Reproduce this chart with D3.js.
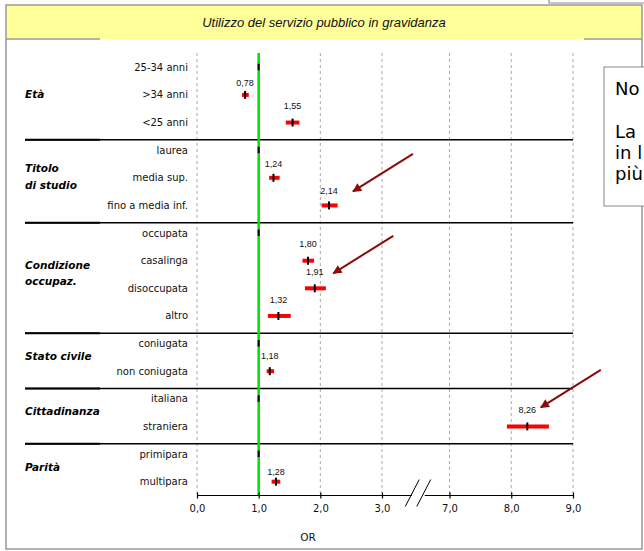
<!DOCTYPE html>
<html>
<head>
<meta charset="utf-8">
<script src="https://cdn.jsdelivr.net/npm/d3@7"></script>
<style>
  html, body { margin: 0; padding: 0; background: #fff; overflow: hidden; }
  svg { display: block; }
</style>
</head>
<body>
<svg id="chart" width="644" height="551"></svg>
<script>
// Odds ratios (with 95% CI) for the use of the public service during pregnancy
const categories = ["25-34 anni", ">34 anni", "<25 anni",
  "laurea", "media sup.", "fino a media inf.",
  "occupata", "casalinga", "disoccupata", "altro",
  "coniugata", "non coniugata",
  "italiana", "straniera",
  "primipara", "multipara"];
const rowGroup = [0, 0, 0, 1, 1, 1, 2, 2, 2, 2, 3, 3, 4, 4, 5, 5];
const groupNames = [["Età"], ["Titolo", "di studio"], ["Condizione", "occupaz."],
  ["Stato civile"], ["Cittadinanza"], ["Parità"]];
const oddsRatio = [1, 0.78, 1.55, 1, 1.24, 2.14, 1, 1.80, 1.91, 1.32, 1, 1.18, 1, 8.26, 1, 1.28];
const ciLower   = [1, 0.73, 1.44, 1, 1.17, 2.02, 1, 1.71, 1.75, 1.15, 1, 1.13, 1, 7.93, 1, 1.21];
const ciUpper   = [1, 0.84, 1.66, 1, 1.34, 2.28, 1, 1.90, 2.09, 1.52, 1, 1.25, 1, 8.61, 1, 1.35];
const xTickValues = [0, 1, 2, 3, 7, 8, 9];
const titleText = "Utilizzo del servizio pubblico in gravidanza";
const axisTitle = "OR";
const noteLines = ["No", "La", "in l", "più"];
// rows pointed out by an arrow
const highlightedRows = [5, 8, 13];

// layout: how far each value label sits above its row
const labelLift = [0, 12, 16.5, 0, 13.5, 14.5, 0, 16.5, 16.5, 16.5, 0, 15.5, 0, 16.5, 0, 10];
// layout: arrow tip offsets from the highlighted estimate
const arrowTip = [[24, -14], [18.5, -15], [13.5, -19]];

const svg = d3.select("#chart");
const fmt = v => d3.format(".2f")(v).replace(".", ",");
const fmtTick = v => d3.format(".1f")(v).replace(".", ",");

// broken axis: 0–3 then 7–9
const x = d3.scaleLinear().domain([0, 3, 7, 9]).range([197, 382, 449.5, 573]);
const y = d3.scalePoint().domain(d3.range(categories.length)).range([67.3, 481.7]);
const axisY = 495.5;
const plotTop = 53;

// frame and title band
svg.append("path").attr("d", "M549,0V3H644").attr("fill", "none").attr("stroke", "#8c8c8c").attr("stroke-width", 1.2);
svg.append("rect").attr("x", 6).attr("y", 5).attr("width", 636).attr("height", 34).attr("fill", "#ffff99");
svg.append("rect").attr("x", 6).attr("y", 5).attr("width", 636).attr("height", 544)
  .attr("fill", "none").attr("stroke", "#999").attr("stroke-width", 1.5);
[[6, 100], [584, 642]].forEach(([a, b]) =>
  svg.append("line").attr("x1", a).attr("x2", b).attr("y1", 39).attr("y2", 39)
    .attr("stroke", "#999").attr("stroke-width", 1.5));
svg.append("text").attr("x", 324).attr("y", 27).attr("text-anchor", "middle")
  .attr("font-family", "'Liberation Sans', Arial, sans-serif").attr("font-style", "italic")
  .attr("font-size", 13).attr("fill", "#111").text(titleText);

// dashed vertical gridlines
svg.append("g").selectAll("line").data(xTickValues.filter(v => v !== 1)).join("line")
  .attr("x1", d => x(d)).attr("x2", d => x(d)).attr("y1", plotTop).attr("y2", axisY)
  .attr("stroke", "#aaa").attr("stroke-width", 1).attr("stroke-dasharray", "3,3");

// group separators
const groupIdx = d3.range(groupNames.length);
const firstRow = g => rowGroup.indexOf(g);
const lastRow = g => rowGroup.lastIndexOf(g);
const seps = groupIdx.slice(1).map(g => (y(lastRow(g - 1)) + y(firstRow(g))) / 2 + 3.5);
svg.append("g").selectAll("line").data(seps).join("line")
  .attr("x1", 25).attr("x2", x(9)).attr("y1", d => d).attr("y2", d => d)
  .attr("stroke", "#000").attr("stroke-width", 1.5);
svg.append("g").selectAll("line").data(seps).join("line")
  .attr("x1", 25).attr("x2", 100).attr("y1", d => d).attr("y2", d => d)
  .attr("stroke", "#000").attr("stroke-width", 2);

// reference line OR = 1
svg.append("line").attr("x1", x(1)).attr("x2", x(1)).attr("y1", plotTop).attr("y2", axisY)
  .attr("stroke", "#00e000").attr("stroke-width", 2.5);

// row labels
svg.append("g").selectAll("text").data(categories).join("text")
  .attr("x", 188).attr("y", (d, i) => y(i)).attr("dy", "0.35em").attr("text-anchor", "end")
  .attr("font-family", "'DejaVu Sans', sans-serif").attr("font-size", 10).attr("fill", "#111")
  .text(d => d);

// group labels
const gl = svg.append("g").selectAll("text").data(groupIdx).join("text")
  .attr("font-family", "'DejaVu Sans', sans-serif").attr("font-weight", "bold").attr("font-style", "italic")
  .attr("font-size", 10.5).attr("fill", "#000");
gl.each(function (g) {
  const lines = groupNames[g];
  const mid = (y(firstRow(g)) + y(lastRow(g))) / 2 - 1;
  const lh = 16.5;
  d3.select(this).selectAll("tspan").data(lines).join("tspan")
    .attr("x", 25).attr("y", (d, k) => mid + (k - (lines.length - 1) / 2) * lh).attr("dy", "0.35em")
    .text(d => d);
});

// confidence intervals and point estimates
const rows = d3.range(categories.length);
const marks = svg.append("g");
marks.selectAll("line.ci").data(rows.filter(i => oddsRatio[i] !== 1)).join("line").attr("class", "ci")
  .attr("x1", i => x(ciLower[i])).attr("x2", i => x(ciUpper[i]))
  .attr("y1", i => y(i)).attr("y2", i => y(i))
  .attr("stroke", "#ff0000").attr("stroke-width", 4);
marks.selectAll("line.est").data(rows).join("line").attr("class", "est")
  .attr("x1", i => x(oddsRatio[i])).attr("x2", i => x(oddsRatio[i]))
  .attr("y1", i => y(i) - (oddsRatio[i] === 1 ? 3.5 : 4)).attr("y2", i => y(i) + (oddsRatio[i] === 1 ? 3 : 4))
  .attr("stroke", "#000").attr("stroke-width", 2);

// value labels
svg.append("g").selectAll("text").data(rows.filter(i => oddsRatio[i] !== 1)).join("text")
  .attr("x", i => x(oddsRatio[i])).attr("y", i => y(i) - labelLift[i]).attr("dy", "0.35em")
  .attr("text-anchor", "middle").attr("font-family", "'Liberation Sans', Arial, sans-serif")
  .attr("font-size", 9).attr("fill", "#111").text(i => fmt(oddsRatio[i]));

// x axis
const axis = svg.append("g").attr("transform", `translate(0,${axisY})`)
  .call(d3.axisBottom(x).tickValues(xTickValues).tickFormat(fmtTick).tickSizeInner(3).tickSizeOuter(0).tickPadding(6));
axis.select(".domain").remove();
axis.selectAll(".tick line").attr("y1", -3).attr("y2", 3).attr("stroke", "#000").attr("stroke-width", 1.2);
axis.selectAll(".tick text").attr("font-family", "'DejaVu Sans', sans-serif").attr("font-size", 10).attr("fill", "#111");
const breakMid = (x(3) + x(7)) / 2;
[[x(0), breakMid - 4], [breakMid + 9, x(9)]].forEach(([a, b]) =>
  svg.append("line").attr("x1", a).attr("x2", b).attr("y1", axisY).attr("y2", axisY)
    .attr("stroke", "#000").attr("stroke-width", 1.2));
[breakMid - 3.5, breakMid + 8].forEach(cx =>
  svg.append("line").attr("x1", cx - 7).attr("y1", axisY + 11).attr("x2", cx + 7).attr("y2", axisY - 16)
    .attr("stroke", "#000").attr("stroke-width", 1));
svg.append("text").attr("x", 308).attr("y", 537).attr("dy", "0.35em").attr("text-anchor", "middle")
  .attr("font-family", "'DejaVu Sans', sans-serif").attr("font-size", 10.5).attr("fill", "#111").text(axisTitle);

// arrows pointing at the highlighted estimates
svg.append("defs").append("marker").attr("id", "head").attr("viewBox", "0 0 10 10")
  .attr("refX", 9).attr("refY", 5).attr("markerWidth", 5).attr("markerHeight", 4.5)
  .attr("orient", "auto").attr("markerUnits", "strokeWidth")
  .append("path").attr("d", "M0,0L10,5L0,10z").attr("fill", "#8b0a0a");
svg.append("g").selectAll("line").data(highlightedRows).join("line")
  .attr("x2", (r, k) => x(oddsRatio[r]) + arrowTip[k][0])
  .attr("y2", (r, k) => y(r) + arrowTip[k][1])
  .attr("x1", (r, k) => x(oddsRatio[r]) + arrowTip[k][0] + 60)
  .attr("y1", (r, k) => y(r) + arrowTip[k][1] - 37.5)
  .attr("stroke", "#8b0a0a").attr("stroke-width", 2).attr("marker-end", "url(#head)");

// side note box (runs past the right edge)
svg.append("rect").attr("x", 604).attr("y", 67).attr("width", 60).attr("height", 139)
  .attr("fill", "#fff").attr("stroke", "#888").attr("stroke-width", 1);
svg.append("g").selectAll("text").data(noteLines).join("text")
  .attr("x", 615).attr("y", (d, i) => [95, 138, 159, 180][i])
  .attr("font-family", "'DejaVu Sans', sans-serif").attr("font-size", 18).attr("fill", "#000")
  .text(d => d);
</script>
</body>
</html>
